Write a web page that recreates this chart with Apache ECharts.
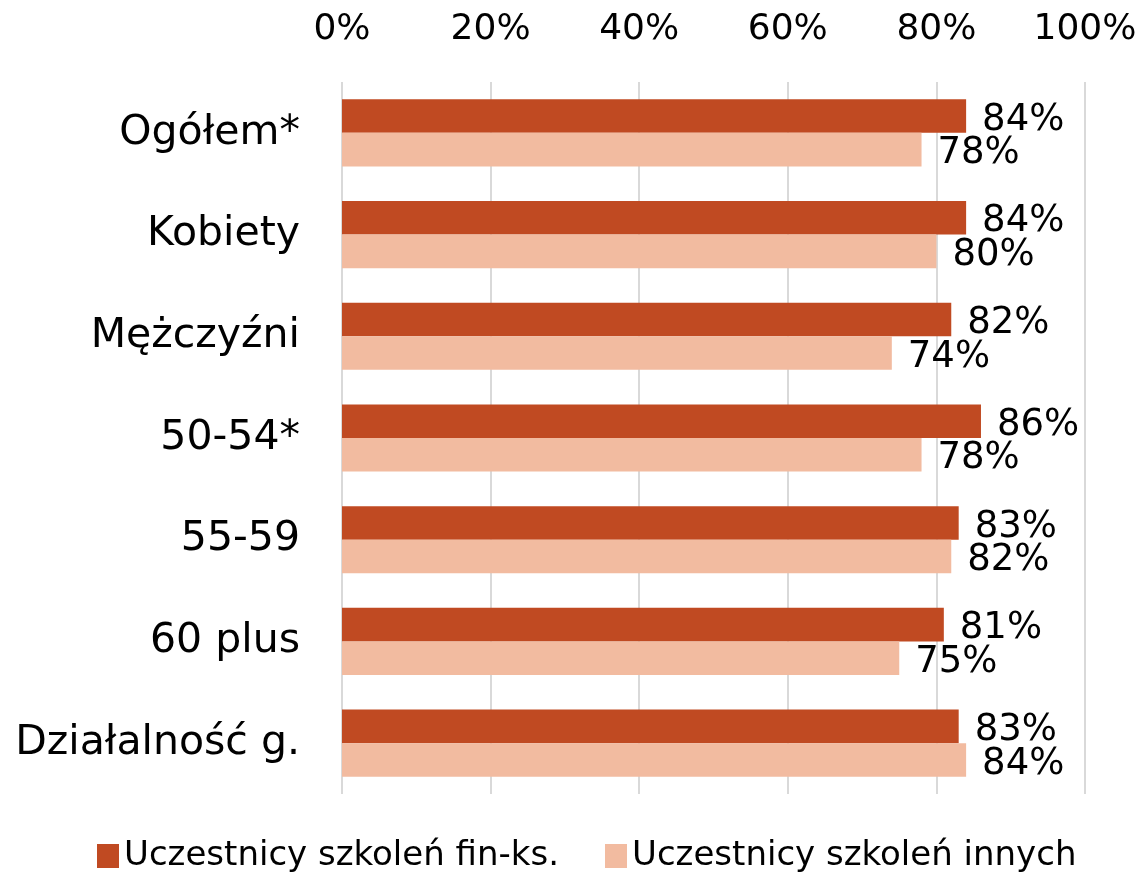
<!DOCTYPE html>
<html>
<head>
<meta charset="utf-8">
<script src="https://cdn.jsdelivr.net/npm/echarts@6/dist/echarts.min.js"></script>
<style>
    html, body {margin: 0; padding: 0; background: #fff;}
    #chart {width: 1142px; height: 872px;}
</style>
</head>
<body>
<div id="chart"></div>
<script>
var categories = ['Ogółem*', 'Kobiety', 'Mężczyźni', '50-54*', '55-59', '60 plus', 'Działalność g.'];
var finKs = [84, 84, 82, 86, 83, 81, 83];
var inne = [78, 80, 74, 78, 82, 75, 84];
var seriesNames = ['Uczestnicy szkoleń fin-ks.', 'Uczestnicy szkoleń innych'];

var font = 'DejaVu Sans';
var chart = echarts.init(document.getElementById('chart'));

var labelStyle = {
    show: true,
    position: 'right',
    distance: 16,
    offset: [0, 4],
    color: '#000',
    fontFamily: font,
    fontSize: 37,
    formatter: '{c}%'
};

chart.setOption({
    animation: false,
    grid: {left: 342, right: 57, top: 82, bottom: 78},
    legend: {
        top: 834,
        left: 92,
        itemWidth: 22,
        itemHeight: 24,
        itemGap: 46,
        icon: 'rect',
        textStyle: {color: '#000', fontFamily: font, fontSize: 34},
        data: seriesNames
    },
    xAxis: {
        type: 'value',
        position: 'top',
        min: 0,
        max: 100,
        interval: 20,
        axisLine: {show: false},
        axisTick: {show: false},
        axisLabel: {
            formatter: '{value}%',
            color: '#000',
            fontFamily: font,
            fontSize: 36,
            margin: 34
        },
        splitLine: {lineStyle: {color: '#D9D9D9', width: 2}}
    },
    yAxis: {
        type: 'category',
        inverse: true,
        data: categories,
        axisLine: {show: false},
        axisTick: {show: false},
        axisLabel: {
            color: '#000',
            fontFamily: font,
            fontSize: 41,
            margin: 42
        }
    },
    series: [{
        name: seriesNames[0],
        type: 'bar',
        data: finKs,
        barGap: '0%',
        barCategoryGap: '34%',
        itemStyle: {color: '#C04A22'},
        label: labelStyle
    }, {
        name: seriesNames[1],
        type: 'bar',
        data: inne,
        itemStyle: {color: '#F2BBA0'},
        label: labelStyle
    }]
});
</script>
</body>
</html>
